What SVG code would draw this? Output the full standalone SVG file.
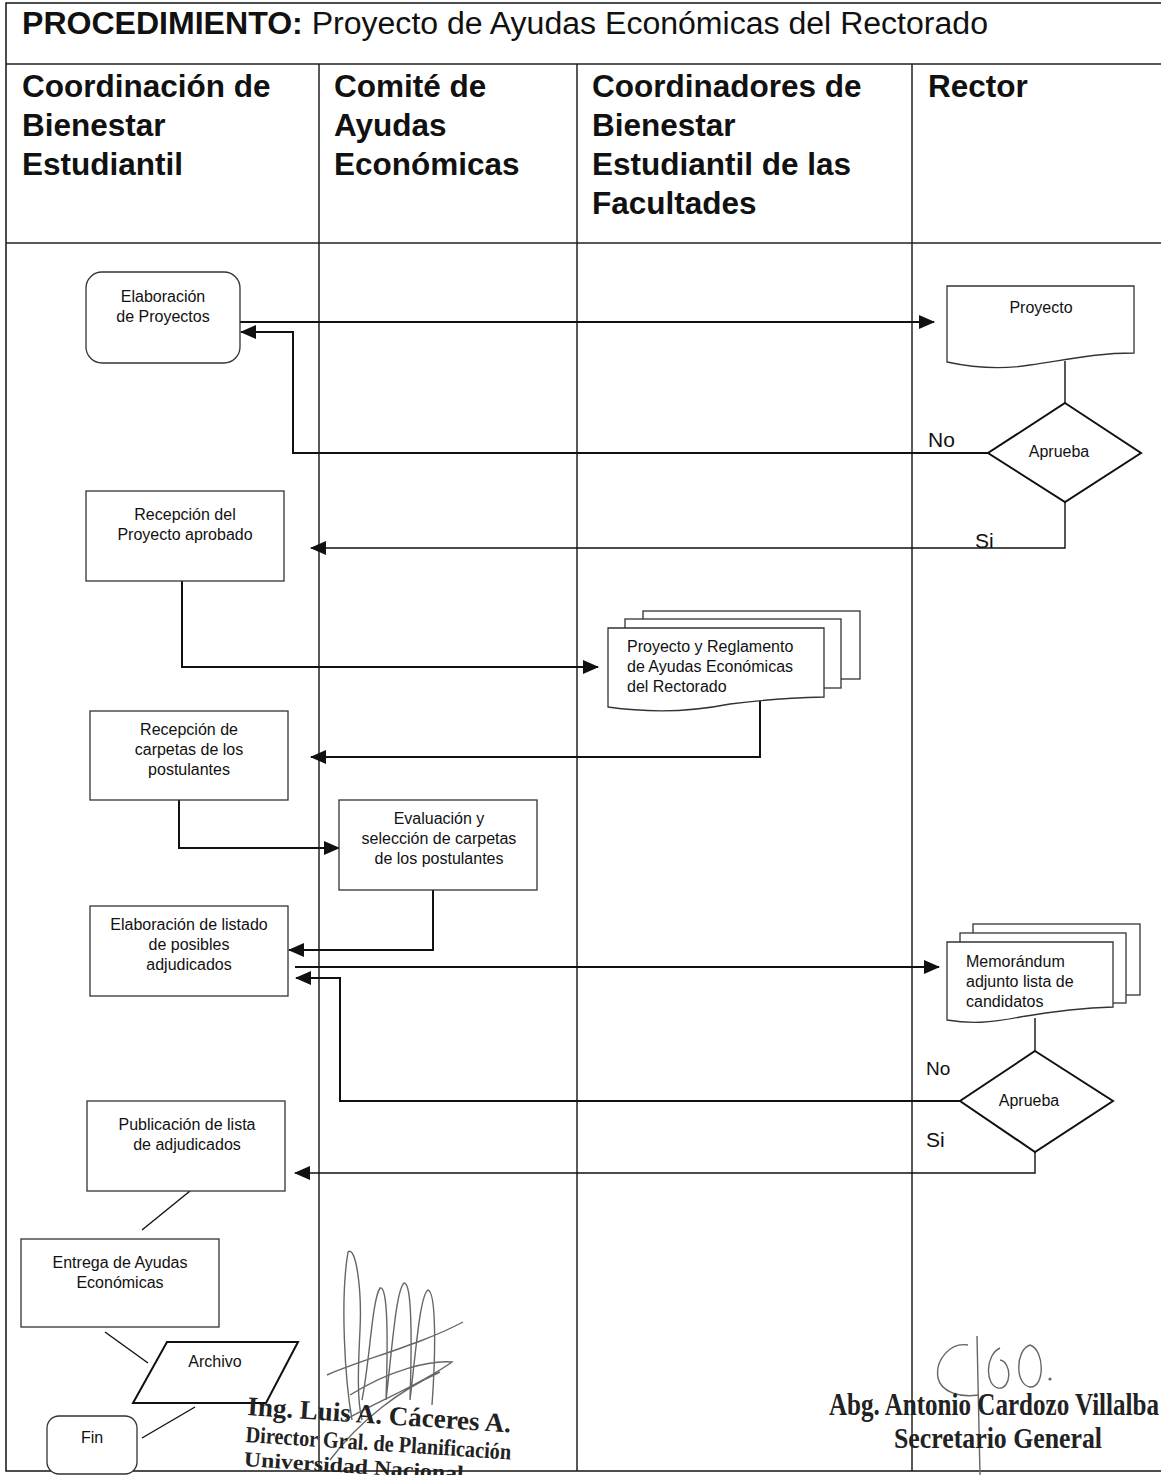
<svg xmlns="http://www.w3.org/2000/svg" width="1161" height="1475" viewBox="0 0 1161 1475">
<style>
.frame{fill:none;stroke:#222;stroke-width:1.6}
.lane{fill:none;stroke:#222;stroke-width:1.5}
.box{fill:#fff;stroke:#333;stroke-width:1.3}
.conn{fill:none;stroke:#111;stroke-width:2}
.thin{stroke-width:1.4}
.t{font-family:'Liberation Sans',Arial,sans-serif;font-size:16px;fill:#111}
.c{text-anchor:middle}
.hd{font-family:'Liberation Sans',Arial,sans-serif;font-size:31.5px;font-weight:bold;fill:#111}
.ttl{font-family:'Liberation Sans',Arial,sans-serif;font-size:31px;fill:#111}
.lbl{font-family:'Liberation Sans',Arial,sans-serif;font-size:21px;fill:#111}
.sig{font-family:'Liberation Serif','Times New Roman',serif;font-weight:bold;fill:#222}
.scr{fill:none;stroke:#666;stroke-width:1.4}
</style>
<defs>
<marker id="ah" markerUnits="userSpaceOnUse" markerWidth="16" markerHeight="14" refX="15" refY="7" orient="auto">
<path d="M0,0 L16,7 L0,14 z" fill="#111"/>
</marker>
</defs>
<rect width="1161" height="1475" fill="#fff"/>

<g id="frame">
<rect class="frame" x="6" y="3" width="1162" height="1468"/>
<line class="frame" x1="6" y1="64" x2="1161" y2="64"/>
<line class="frame" x1="6" y1="243" x2="1161" y2="243"/>
<line class="lane" x1="319" y1="64" x2="319" y2="1471"/>
<line class="lane" x1="577" y1="64" x2="577" y2="1471"/>
<line class="lane" x1="912" y1="64" x2="912" y2="1471"/>
<text class="ttl" x="22" y="34" textLength="966" lengthAdjust="spacingAndGlyphs"><tspan font-weight="bold">PROCEDIMIENTO:</tspan> Proyecto de Ayudas Económicas del Rectorado</text>
<text class="hd" x="22" y="97">Coordinación de</text>
<text class="hd" x="22" y="136">Bienestar</text>
<text class="hd" x="22" y="175">Estudiantil</text>
<text class="hd" x="334" y="97">Comité de</text>
<text class="hd" x="334" y="136">Ayudas</text>
<text class="hd" x="334" y="175">Económicas</text>
<text class="hd" x="592" y="97">Coordinadores de</text>
<text class="hd" x="592" y="136">Bienestar</text>
<text class="hd" x="592" y="175">Estudiantil de las</text>
<text class="hd" x="592" y="214">Facultades</text>
<text class="hd" x="928" y="97">Rector</text>
</g>

<g id="connectors">
<path class="conn" d="M240,322 H934" marker-end="url(#ah)"/>
<path class="conn thin" d="M1065,361 V403"/>
<path class="conn" d="M988,453 H293 V332 H241" marker-end="url(#ah)"/>
<path class="conn thin" d="M1065,502 V548 H311" marker-end="url(#ah)"/>
<path class="conn" d="M182,581 V667 H598" marker-end="url(#ah)"/>
<path class="conn" d="M760,701 V757 H311" marker-end="url(#ah)"/>
<path class="conn" d="M179,800 V848 H339" marker-end="url(#ah)"/>
<path class="conn" d="M433,890 V950 H289" marker-end="url(#ah)"/>
<path class="conn" d="M295,967 H939" marker-end="url(#ah)"/>
<path class="conn thin" d="M1035,1018 V1051"/>
<path class="conn" d="M960,1101 H340 V978 H296" marker-end="url(#ah)"/>
<path class="conn thin" d="M1035,1152 V1173 H295" marker-end="url(#ah)"/>
<path class="conn thin" d="M190,1191 L142,1230"/>
<path class="conn thin" d="M105,1332 L148,1363"/>
<path class="conn thin" d="M195,1407 L142,1438"/>
</g>

<g id="n-elab-proyectos">
<rect class="box" x="86" y="272" width="154" height="91" rx="16"/>
<text class="t c" x="163" y="302">Elaboración</text>
<text class="t c" x="163" y="322">de Proyectos</text>
</g>

<g id="n-proyecto">
<path class="box" d="M947,286 H1134 V353 C1095,353 1065,360 1030,365 C1000,370 970,367 947,362 Z"/>
<text class="t c" x="1041" y="313">Proyecto</text>
</g>

<g id="n-aprueba1">
<path class="box" d="M1065,403 L1141,453 L1065,502 L988,453 Z" style="stroke:#111;stroke-width:2"/>
<text class="t c" x="1059" y="457">Aprueba</text>
<text class="lbl" x="928" y="447">No</text>
<text class="lbl" x="975" y="548">Si</text>
</g>

<g id="n-recep-proyecto">
<rect class="box" x="86" y="491" width="198" height="90"/>
<text class="t c" x="185" y="520">Recepción del</text>
<text class="t c" x="185" y="540">Proyecto aprobado</text>
</g>

<g id="n-doc-reglamento">
<rect class="box" x="643" y="611" width="217" height="68"/>
<rect class="box" x="625" y="619" width="216" height="69"/>
<path class="box" d="M608,628 H824 V697 C790,698 760,700 730,704 C690,712 650,713 608,707 Z"/>
<text class="t" x="627" y="652">Proyecto y Reglamento</text>
<text class="t" x="627" y="672">de Ayudas Económicas</text>
<text class="t" x="627" y="692">del Rectorado</text>
</g>

<g id="n-recep-carpetas">
<rect class="box" x="90" y="711" width="198" height="89"/>
<text class="t c" x="189" y="735">Recepción de</text>
<text class="t c" x="189" y="755">carpetas de los</text>
<text class="t c" x="189" y="775">postulantes</text>
</g>

<g id="n-evaluacion">
<rect class="box" x="339" y="800" width="198" height="90"/>
<text class="t c" x="439" y="824">Evaluación y</text>
<text class="t c" x="439" y="844">selección de carpetas</text>
<text class="t c" x="439" y="864">de los postulantes</text>
</g>

<g id="n-elab-listado">
<rect class="box" x="90" y="906" width="198" height="90"/>
<text class="t c" x="189" y="930">Elaboración de listado</text>
<text class="t c" x="189" y="950">de posibles</text>
<text class="t c" x="189" y="970">adjudicados</text>
</g>

<g id="n-memorandum">
<rect class="box" x="973" y="924" width="167" height="71"/>
<rect class="box" x="960" y="933" width="166" height="70"/>
<path class="box" d="M947,942 H1113 V1007 C1080,1008 1050,1012 1020,1017 C990,1023 970,1024 947,1020 Z"/>
<text class="t" x="966" y="967">Memorándum</text>
<text class="t" x="966" y="987">adjunto lista de</text>
<text class="t" x="966" y="1007">candidatos</text>
</g>

<g id="n-aprueba2">
<path class="box" d="M1035,1051 L1113,1101 L1035,1152 L960,1101 Z" style="stroke:#111;stroke-width:2"/>
<text class="t c" x="1029" y="1106">Aprueba</text>
<text class="lbl" x="926" y="1075" style="font-size:19px">No</text>
<text class="lbl" x="926" y="1147">Si</text>
</g>

<g id="n-publicacion">
<rect class="box" x="87" y="1101" width="198" height="90"/>
<text class="t c" x="187" y="1130">Publicación de lista</text>
<text class="t c" x="187" y="1150">de adjudicados</text>
</g>

<g id="n-entrega">
<rect class="box" x="21" y="1239" width="198" height="88"/>
<text class="t c" x="120" y="1268">Entrega de Ayudas</text>
<text class="t c" x="120" y="1288">Económicas</text>
</g>

<g id="n-archivo">
<path class="box" d="M167,1342 H298 L266,1403 H133 Z" style="stroke:#111;stroke-width:2"/>
<text class="t c" x="215" y="1367">Archivo</text>
</g>

<g id="n-fin">
<rect class="box" x="47" y="1416" width="90" height="58" rx="12"/>
<text class="t c" x="92" y="1443">Fin</text>
</g>

<g id="signatures">
<path class="scr" d="M352,1420 C345,1380 340,1300 348,1252 C356,1245 362,1290 360,1330 C358,1370 357,1400 362,1420 M362,1400 C370,1360 372,1300 380,1288 C388,1285 388,1340 386,1400 M386,1400 C392,1350 396,1290 404,1283 C412,1282 412,1340 410,1400 M410,1400 C416,1350 420,1295 428,1290 C436,1292 436,1350 432,1405 M327,1375 C360,1360 420,1345 463,1322 M350,1395 C390,1370 430,1360 452,1362 C420,1385 380,1400 345,1420 M330,1460 C360,1420 400,1390 440,1372"/>
<path class="scr" d="M968,1345 C950,1342 935,1360 938,1378 C941,1392 960,1398 978,1395 M977,1336 L980,1475 M1000,1348 C985,1355 985,1385 998,1388 C1012,1390 1012,1362 1000,1360 M1030,1345 C1015,1350 1015,1385 1030,1387 C1045,1388 1045,1350 1030,1345"/>
<circle cx="1050" cy="1379" r="1.6" fill="#666"/>
<g transform="rotate(3.8 247 1415)">
<text class="sig" x="247" y="1415" font-size="27" textLength="264" lengthAdjust="spacingAndGlyphs">Ing. Luis A. Cáceres A.</text>
<text class="sig" x="247" y="1442" font-size="23" textLength="266" lengthAdjust="spacingAndGlyphs">Director Gral. de Planificación</text>
<text class="sig" x="247" y="1466" font-size="21" textLength="220" lengthAdjust="spacingAndGlyphs">Universidad Nacional</text>
</g>
<text class="sig" x="829" y="1415" font-size="32" textLength="330" lengthAdjust="spacingAndGlyphs">Abg. Antonio Cardozo Villalba</text>
<text class="sig" x="998" y="1448" font-size="29" text-anchor="middle" textLength="208" lengthAdjust="spacingAndGlyphs">Secretario General</text>
</g>
</svg>
